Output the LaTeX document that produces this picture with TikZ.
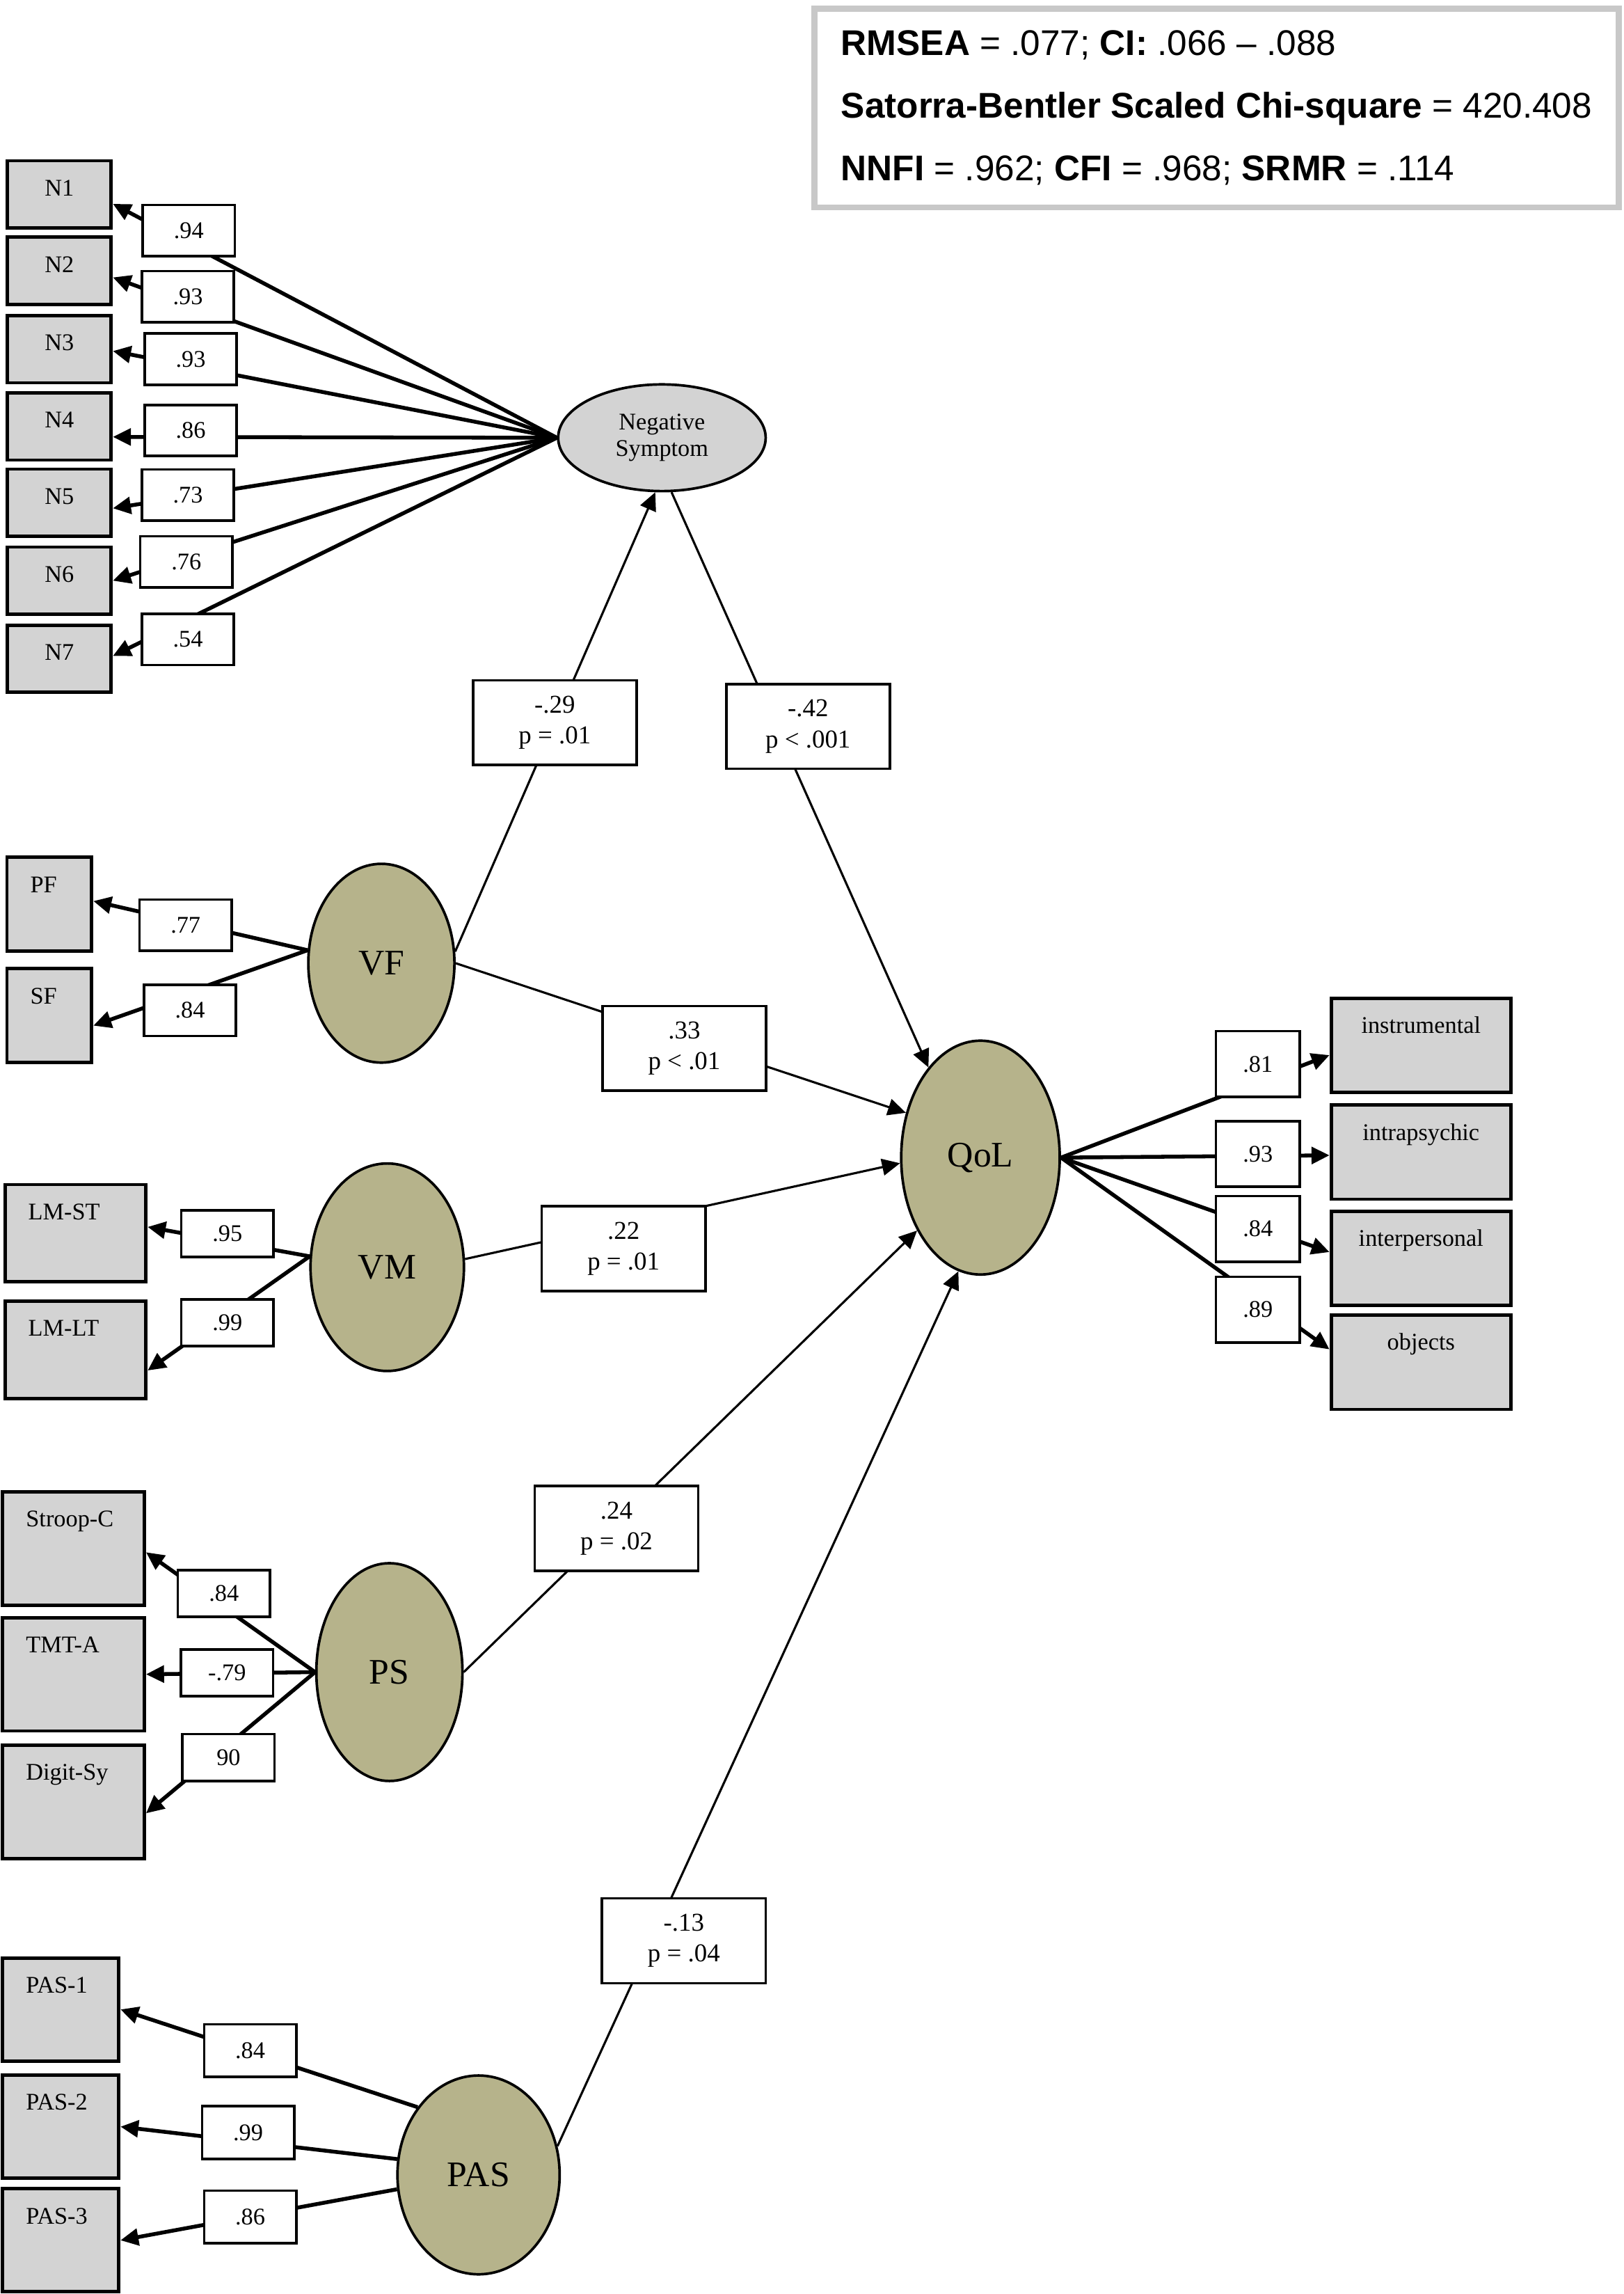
\documentclass[tikz,border=0pt]{standalone}
\usepackage{fontspec}
\setmainfont{Liberation Serif}
\newfontfamily\fitfont{Liberation Sans}
\usetikzlibrary{shapes.geometric,arrows.meta}
\definecolor{latentfill}{RGB}{182,179,139}
\definecolor{indgray}{RGB}{211,211,211}
\definecolor{framegray}{RGB}{200,200,200}

\begin{document}
\begin{tikzpicture}[x=0.2mm, y=-0.2mm,
  latent/.style 2 args={ellipse, draw, fill=latentfill, line width=1pt, inner sep=0pt,
    minimum width=#1, minimum height=#2, font=\fontsize{14}{16}\selectfont},
  ind/.style 2 args={draw, fill=indgray, line width=1.3pt, inner xsep=3.2mm, inner ysep=0pt,
    text width=#1, text height=4.8mm, text depth=#2, align=center, font=\fontsize{9.3}{11}\selectfont}
]

\tikzstyle{load}=[draw, fill=white, line width=1pt, inner sep=0pt, minimum width=12.6mm, minimum height=7mm, font=\fontsize{9.3}{11}\selectfont]
\tikzstyle{coef}=[draw, fill=white, line width=1pt, inner sep=0pt, minimum width=22.4mm, minimum height=11.6mm, align=center, font=\fontsize{10}{12}\selectfont]
\tikzstyle{loadline}=[line width=1.5pt, -{Triangle[length=7pt,width=6.5pt]}]
\tikzstyle{pathline}=[line width=0.85pt, -{Triangle[length=7pt,width=6.5pt]}]

\useasboundingbox (0,0) rectangle (1111,1569.5);

\node [draw=framegray, line width=2.4pt, anchor=north west, inner xsep=3.2mm, inner ysep=0pt,
  minimum width=110.1mm, minimum height=27.2mm, align=left,
  font=\fitfont\fontsize{13.9}{24.4}\selectfont] (fit) at (555.2,3.8)
  {\textbf{RMSEA} = .077; \textbf{CI:} .066 – .088\\
   \textbf{Satorra-Bentler Scaled Chi-square} = 420.408\\
   \textbf{NNFI} = .962; \textbf{CFI} = .968; \textbf{SRMR} = .114};

% latent variables
\node [latent={28.4mm}{14.6mm}, fill=indgray, align=center, font=\fontsize{9.3}{10.2}\selectfont] (ns) at (453,299.5) {Negative\\Symptom};
\node [latent={20mm}{27.2mm}] (vf) at (261,659) {VF};
\node [latent={21mm}{28.4mm}] (vm) at (265,867) {VM};
\node [latent={20mm}{29.8mm}] (ps) at (266.5,1144) {PS};
\node [latent={22.2mm}{27.2mm}] (pas) at (327.5,1488) {PAS};
\node [latent={21.7mm}{32mm}] (qol) at (671,792) {QoL};

% observed variables
\node [ind={7.8mm}{4.4mm}] (n1) at (40.6,133) {N1};
\node [ind={7.8mm}{4.4mm}] (n2) at (40.6,185.3) {N2};
\node [ind={7.8mm}{4.4mm}] (n3) at (40.6,238.9) {N3};
\node [ind={7.8mm}{4.4mm}] (n4) at (40.6,291.8) {N4};
\node [ind={7.8mm}{4.4mm}] (n5) at (40.6,343.9) {N5};
\node [ind={7.8mm}{4.4mm}] (n6) at (40.6,397.3) {N6};
\node [ind={7.8mm}{4.4mm}] (n7) at (40.6,450.7) {N7};

\node [ind={5.2mm}{8.04mm}, align=left] (pf) at (33.75,618.6) {PF};
\node [ind={5.2mm}{8.04mm}, align=left] (sf) at (33.75,694.75) {SF};
\node [ind={12.9mm}{8.5mm}, align=left] (lmst) at (51.65,843.75) {LM-ST};
\node [ind={12.9mm}{8.5mm}, align=left] (lmlt) at (51.65,923.5) {LM-LT};
\node [ind={13mm}{10.7mm}, align=left] (stroop) at (50.3,1059.4) {Stroop-C};
\node [ind={13mm}{10.7mm}, align=left] (tmt) at (50.3,1145.5) {TMT-A};
\node [ind={13mm}{10.7mm}, align=left] (digit) at (50.3,1232.75) {Digit-Sy};
\node [ind={9.5mm}{9.3mm}, align=left] (pas1) at (41.55,1374.8) {PAS-1};
\node [ind={9.5mm}{9.3mm}, align=left] (pas2) at (41.55,1455) {PAS-2};
\node [ind={9.5mm}{9.3mm}, align=left] (pas3) at (41.55,1532.75) {PAS-3};

\node [ind={18.2mm}{8.1mm}] (instr) at (972.5,715.3) {instrumental};
\node [ind={18.2mm}{8.1mm}] (intra) at (972.5,788.25) {intrapsychic};
\node [ind={18.2mm}{8.1mm}] (inter) at (972.5,861) {interpersonal};
\node [ind={18.2mm}{8.1mm}] (obj) at (972.5,932) {objects};

% loadings
\draw [loadline] (ns.west) -- (n1.-10);
\draw [loadline] (ns.west) -- (n2.-7);
\draw [loadline] (ns.west) -- (n3.-2);
\draw [loadline] (ns.west) -- (n4.-11);
\draw [loadline] (ns.west) -- (n5.-6);
\draw [loadline] (ns.west) -- (n6.east);
\draw [loadline] (ns.west) -- (n7.3);
\draw [loadline] (vf.170) -- (pf.4);
\draw [loadline] (vf.170) -- (sf.-13);
\draw [loadline] (vm.172) -- (lmst.5);
\draw [loadline] (vm.172) -- (lmlt.-16);
\draw [loadline] (ps.west) -- (stroop.-3);
\draw [loadline] (ps.west) -- (tmt.east);
\draw [loadline] (ps.west) -- (digit.-9);
\draw [loadline] (pas.132) -- (pas1.east);
\draw [loadline] (pas.169) -- (pas2.east);
\draw [loadline] (pas.190) -- (pas3.east);
\draw [loadline] (qol.east) -- (instr.186);
\draw [loadline] (qol.east) -- (intra.182);
\draw [loadline] (qol.east) -- (inter.176);
\draw [loadline] (qol.east) -- (obj.172);

% structural paths
\draw [pathline] (vf.9) -- (ns.263);
\draw [pathline] (ns.280) -- (qol.120);
\draw [pathline] (vf.east) -- (qol.149);
\draw [pathline] (vm.6) -- (qol.184);
\draw [pathline] (ps.east) -- (qol.229);
\draw [pathline] (pas.20) -- (qol.259);

\node [load] (l94) at (129.2,157.7) {.94};
\node [load] (l93a) at (128.6,203) {.93};
\node [load] (l93b) at (130.5,245.7) {.93};
\node [load] (l86) at (130.5,294.5) {.86};
\node [load] (l73) at (128.6,338.7) {.73};
\node [load] (l76) at (127.5,384.4) {.76};
\node [load] (l54) at (128.6,437.5) {.54};

\node [load] (l77) at (127,632.9) {.77};
\node [load] (l84vf) at (130,691.3) {.84};
\node [load, minimum height=6.4mm] (l95) at (155.6,844) {.95};
\node [load, minimum height=6.4mm] (l99vm) at (155.6,905) {.99};
\node [load, minimum height=6.4mm] (l84ps) at (153.2,1090.3) {.84};
\node [load, minimum height=6.4mm] (l79) at (155.4,1144.6) {-.79};
\node [load, minimum height=6.4mm] (l90) at (156.4,1202.4) {90};
\node [load, minimum height=7.2mm] (l84pas) at (171.2,1403) {.84};
\node [load, minimum height=7.2mm] (l99pas) at (169.8,1459) {.99};
\node [load, minimum height=7.2mm] (l86pas) at (171.2,1516.7) {.86};

\node [load, minimum width=11.5mm, minimum height=9mm] (l81) at (860.8,728) {.81};
\node [load, minimum width=11.5mm, minimum height=9mm] (l93q) at (860.8,789.5) {.93};
\node [load, minimum width=11.5mm, minimum height=9mm] (l84q) at (860.8,840.8) {.84};
\node [load, minimum width=11.5mm, minimum height=9mm] (l89) at (860.8,896) {.89};

\node [coef] (p29) at (379.7,494.4) {-.29\\p = .01};
\node [coef] (p42) at (553,497) {-.42\\p < .001};
\node [coef] (p33) at (468.3,717.3) {.33\\p < .01};
\node [coef] (p22) at (426.75,854.3) {.22\\p = .01};
\node [coef] (p24) at (421.9,1045.7) {.24\\p = .02};
\node [coef] (p13) at (468,1327.8) {-.13\\p = .04};
\end{tikzpicture}
\end{document}
